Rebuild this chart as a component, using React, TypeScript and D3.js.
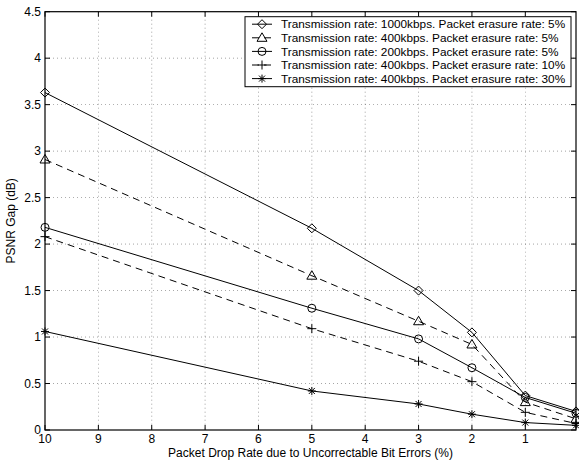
import React from "react";
import * as d3 from "d3";

const xValues = [10, 5, 3, 2, 1, 0.05];
const seriesLabels = [
  "Transmission rate: 1000kbps. Packet erasure rate: 5%",
  "Transmission rate: 400kbps. Packet erasure rate: 5%",
  "Transmission rate: 200kbps. Packet erasure rate: 5%",
  "Transmission rate: 400kbps. Packet erasure rate: 10%",
  "Transmission rate: 400kbps. Packet erasure rate: 30%",
];
const s1000_5 = [3.63, 2.17, 1.5, 1.05, 0.37, 0.2];
const s400_5 = [2.91, 1.66, 1.17, 0.92, 0.3, 0.12];
const s200_5 = [2.18, 1.31, 0.98, 0.67, 0.35, 0.18];
const s400_10 = [2.08, 1.09, 0.74, 0.52, 0.19, 0.07];
const s400_30 = [1.06, 0.42, 0.28, 0.17, 0.08, 0.05];
const seriesValues = [s1000_5, s400_5, s200_5, s400_10, s400_30];
const markers = ["diamond", "triangle", "circle", "plus", "star"];
const dashed = [false, true, false, true, false];
const xTicks = [10, 9, 8, 7, 6, 5, 4, 3, 2, 1];
const yTicks = [0, 0.5, 1, 1.5, 2, 2.5, 3, 3.5, 4, 4.5];

const L = 45, R = 576, T = 11.7, B = 430;
const FONT = "Liberation Sans, Arial, sans-serif";
const FS = 12;

function Marker({ type, x, y }: { type: string; x: number; y: number }) {
  const s = { fill: "none", stroke: "#000", strokeWidth: 1 };
  if (type === "diamond")
    return <path d={`M${x},${y - 4.5}L${x + 4.5},${y}L${x},${y + 4.5}L${x - 4.5},${y}Z`} {...s} />;
  if (type === "triangle")
    return <path d={`M${x},${y - 5}L${x + 5},${y + 3.5}L${x - 5},${y + 3.5}Z`} {...s} />;
  if (type === "circle") return <circle cx={x} cy={y} r={4} {...s} />;
  if (type === "plus")
    return <path d={`M${x - 4.5},${y}H${x + 4.5}M${x},${y - 4.5}V${y + 4.5}`} {...s} />;
  const r = 4, q = 3;
  return (
    <path
      d={`M${x - r},${y}H${x + r}M${x},${y - r}V${y + r}M${x - q},${y - q}L${x + q},${y + q}M${x - q},${y + q}L${x + q},${y - q}`}
      {...s}
    />
  );
}

export default function App() {
  const x = d3.scaleLinear().domain([10, 0.05]).range([L, R]);
  const y = d3.scaleLinear().domain([0, 4.5]).range([B, T]);
  const line = d3
    .line<number>()
    .x((_, i) => x(xValues[i]))
    .y((d) => y(d));
  const legX = 245, legY = 16.7, legW = 326, legH = 70;
  return (
    <svg width={579} height={464} style={{ position: "absolute", left: 0, top: 0 }}>
      <rect x={0} y={0} width={579} height={464} fill="#fff" />
      {/* grid */}
      {xTicks.slice(1).map((t) => (
        <line key={"gx" + t} x1={x(t)} x2={x(t)} y1={T} y2={B} stroke="#000" strokeWidth={0.6} strokeDasharray="1,3" opacity={0.6} />
      ))}
      {yTicks.slice(1, -1).map((t) => (
        <line key={"gy" + t} x1={L} x2={R} y1={y(t)} y2={y(t)} stroke="#000" strokeWidth={0.6} strokeDasharray="1,3" opacity={0.6} />
      ))}
      {/* ticks */}
      {xTicks.map((t) => (
        <g key={"tx" + t}>
          <line x1={x(t)} x2={x(t)} y1={B} y2={B - 5} stroke="#000" />
          <line x1={x(t)} x2={x(t)} y1={T} y2={T + 5} stroke="#000" />
          <text x={x(t)} y={B + 12.5} textAnchor="middle" fontFamily={FONT} fontSize={FS}>
            {t}
          </text>
        </g>
      ))}
      {yTicks.map((t) => (
        <g key={"ty" + t}>
          <line x1={L} x2={L + 5} y1={y(t)} y2={y(t)} stroke="#000" />
          <line x1={R} x2={R - 5} y1={y(t)} y2={y(t)} stroke="#000" />
          <text x={L - 4} y={y(t)} dy="0.35em" textAnchor="end" fontFamily={FONT} fontSize={FS}>
            {t}
          </text>
        </g>
      ))}
      {/* series */}
      {seriesValues.map((vals, si) => (
        <g key={"s" + si}>
          <path d={line(vals) || ""} fill="none" stroke="#000" strokeWidth={1} strokeDasharray={dashed[si] ? "7,5" : undefined} />
          {vals.map((v, i) => (
            <Marker key={i} type={markers[si]} x={x(xValues[i])} y={y(v)} />
          ))}
        </g>
      ))}
      {/* frame */}
      <rect x={L} y={T} width={R - L} height={B - T} fill="none" stroke="#000" strokeWidth={1.2} />
      {/* legend */}
      <rect x={legX} y={legY} width={legW} height={legH} fill="#fff" stroke="#000" strokeWidth={1} />
      {seriesLabels.map((lab, i) => {
        const ly = legY + 7.5 + i * 13.6;
        return (
          <g key={"l" + i}>
            <line x1={252} x2={272} y1={ly} y2={ly} stroke="#000" strokeDasharray={dashed[i] ? "7,5" : undefined} />
            <Marker type={markers[i]} x={262} y={ly} />
            <text x={281} y={ly} dy="0.35em" fontFamily={FONT} fontSize={11.8}>
              {lab}
            </text>
          </g>
        );
      })}
      {/* axis labels */}
      <text x={(L + R) / 2} y={457} textAnchor="middle" fontFamily={FONT} fontSize={FS}>
        Packet Drop Rate due to Uncorrectable Bit Errors (%)
      </text>
      <text transform={`translate(15,${(T + B) / 2}) rotate(-90)`} textAnchor="middle" fontFamily={FONT} fontSize={FS}>
        PSNR Gap (dB)
      </text>
    </svg>
  );
}
